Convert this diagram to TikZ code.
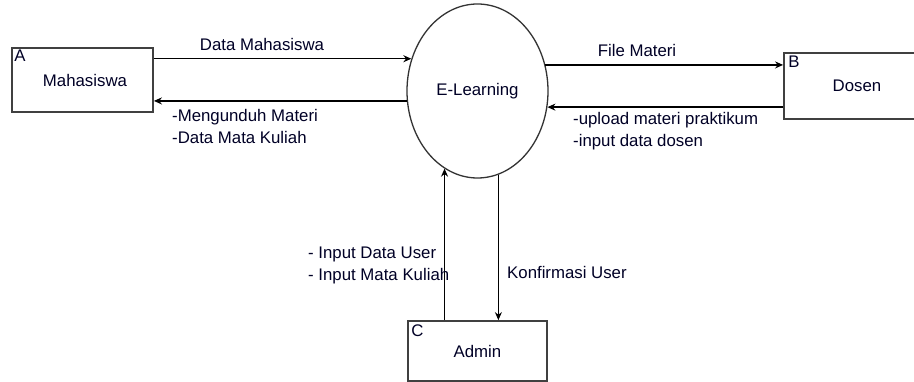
\documentclass[tikz,border=0pt]{standalone}
\usepackage{fontspec}
\setmainfont{Liberation Sans}
\usetikzlibrary{arrows.meta,shapes.geometric}
\begin{document}
\begin{tikzpicture}[x=1pt,y=-1pt,
  ent/.style={draw=black!75,line width=1.8pt,rectangle,inner sep=0,font=\fontsize{16.8}{19}\selectfont,text=black!85!blue},
  proc/.style={draw=black!80,line width=1.3pt,ellipse,minimum width=141pt,minimum height=174pt,inner sep=0,font=\fontsize{16.8}{19}\selectfont,text=black!85!blue},
  flow/.style={line width=1.3pt,-{Stealth[length=8pt,width=7pt]}},
  lbl/.style={font=\fontsize{16.8}{21.5}\selectfont,inner sep=0,text=black!85!blue,align=left}]
\clip (0,0) rectangle (914,382);
\fill[white] (0,0) rectangle (914,382);
% nodes
\node[proc] (el) at (477.5,91) {E-Learning};
\node[ent,minimum width=141pt,minimum height=64pt] (mah) at (82.5,80) {\hspace*{5pt}Mahasiswa};
\node[ent,minimum width=146pt,minimum height=66pt] (dos) at (857,86) {Dosen};
\node[ent,minimum width=139pt,minimum height=60pt] (adm) at (477.5,351) {Admin};
\node[lbl,anchor=north west] (la) at ([xshift=3pt,yshift=-3pt]mah.north west) {A};
\node[lbl,anchor=north west] (lb) at ([xshift=5pt,yshift=-4pt]dos.north west) {B};
\node[lbl,anchor=north west] (lc) at ([xshift=4pt,yshift=-4pt]adm.north west) {C};
% flows
\draw[flow] (mah.east |- el.154) -- (el.154);
\draw[flow] (el.188) -- (mah.east |- el.188);
\draw[flow] (el.21) -- (dos.west |- el.21);
\draw[flow] (dos.west |- el.347) -- (el.347);
\draw[flow] (adm.north -| el.247) -- (el.247);
\draw[flow] (el.284.6) -- (adm.north -| el.284.6);
% labels
\node[lbl] (t1) at (262,44) {Data Mahasiswa};
\node[lbl,anchor=west] (t2) at (172,126.5) {-Mengunduh Materi\\-Data Mata Kuliah};
\node[lbl] (t3) at (637,50) {File Materi};
\node[lbl,anchor=west] (t4) at (573,131) {-upload materi praktikum\\-input data dosen};
\node[lbl,anchor=west] (t5) at (308,265.5) {- Input Data User\\- Input Mata Kuliah};
\node[lbl,anchor=west] (t6) at (507,272) {Konfirmasi User};
\end{tikzpicture}
\end{document}
